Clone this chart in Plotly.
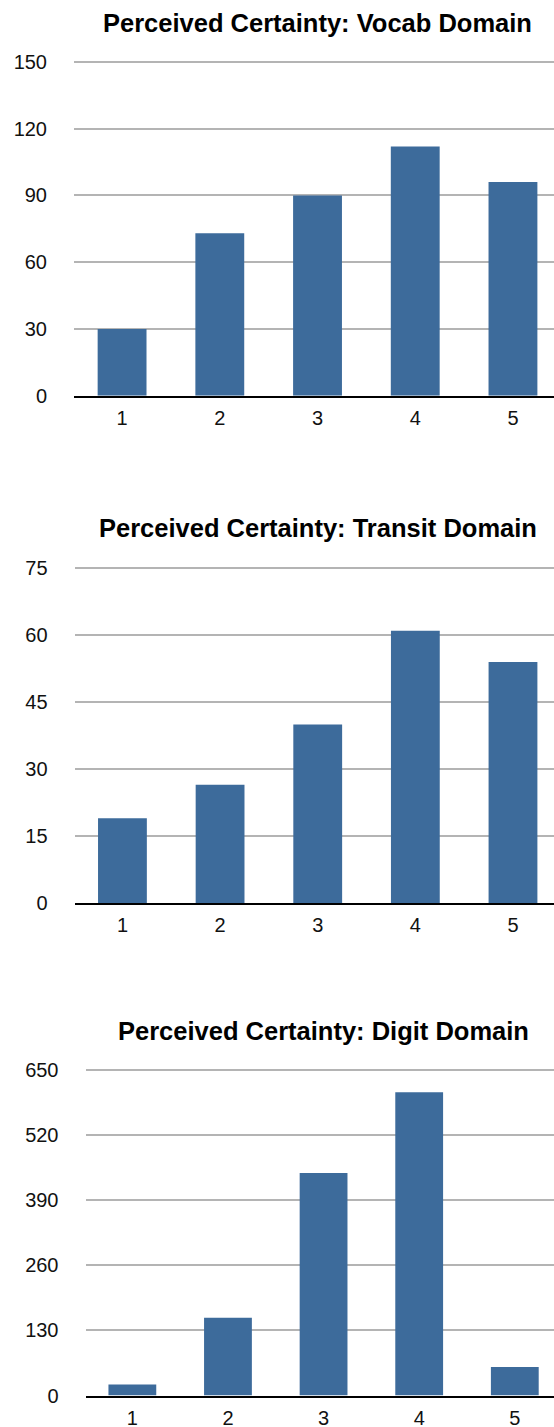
import plotly.graph_objects as go

categories = [1, 2, 3, 4, 5]
vocab_values = [30, 73, 90, 112, 96]
transit_values = [19, 26.5, 40, 61, 54]
digit_values = [22, 155, 444, 605, 57]

vocab_ticks = [0, 30, 60, 90, 120, 150]
transit_ticks = [0, 15, 30, 45, 60, 75]
digit_ticks = [0, 130, 260, 390, 520, 650]

titles = [
    "Perceived Certainty: Vocab Domain",
    "Perceived Certainty: Transit Domain",
    "Perceived Certainty: Digit Domain",
]

W, H = 554, 1427
BAR = "#3d6b9b"
GRID = "#b4b4b4"
FONT = "Liberation Sans, Arial, Helvetica, sans-serif"

# pixel layout of each panel: (left, top, bottom, title_center_y, x_range)
panels = [
    (74.0, 60.5, 395.7, 22.5, [0.508, 5.42], vocab_values, vocab_ticks),
    (74.6, 567.0, 903.0, 528.3, [0.51, 5.42], transit_values, transit_ticks),
    (85.5, 1068.3, 1395.5, 1030.5, [0.51, 5.41], digit_values, digit_ticks),
]

fig = go.Figure()
for i, (left, top, bottom, ty, xr, vals, ticks) in enumerate(panels):
    n = "" if i == 0 else str(i + 1)
    fig.add_trace(go.Bar(
        x=categories, y=vals, width=0.5,
        marker=dict(color=BAR, line=dict(width=0)),
        xaxis="x" + n, yaxis="y" + n, showlegend=False,
    ))
    fig.update_layout(**{
        "xaxis" + n: dict(
            domain=[left / W, 1.0], range=xr, anchor="y" + n,
            tickvals=categories, ticktext=[str(c) for c in categories],
            showgrid=False, zeroline=False,
            showline=True, linecolor="black", linewidth=2,
            ticks="", ticklabelstandoff=3,
            tickfont=dict(family=FONT, size=20, color="#111111"),
        ),
        "yaxis" + n: dict(
            domain=[1 - bottom / H, 1 - top / H],
            range=[0, ticks[-1] * 1.004], anchor="x" + n,
            tickvals=ticks, ticktext=[str(t) for t in ticks],
            showgrid=True, gridcolor=GRID, gridwidth=2,
            zeroline=False, showline=False, ticks="",
            ticklabelstandoff=26,
            tickfont=dict(family=FONT, size=20, color="#111111"),
        ),
    })
    fig.add_annotation(
        text="<b>" + titles[i] + "</b>",
        xref="x" + n, x=3, yref="paper", y=1 - ty / H,
        xanchor="center", yanchor="middle", showarrow=False,
        font=dict(family=FONT, size=25.5, color="black"),
    )

fig.update_layout(
    width=W, height=H,
    margin=dict(l=0, r=0, t=0, b=0, autoexpand=False),
    paper_bgcolor="white", plot_bgcolor="white",
    bargap=0.5,
)

fig.write_html(
    "out.html",
    config={"displayModeBar": False},
    post_script="document.body.style.margin='0';document.body.style.overflow='hidden';",
)
